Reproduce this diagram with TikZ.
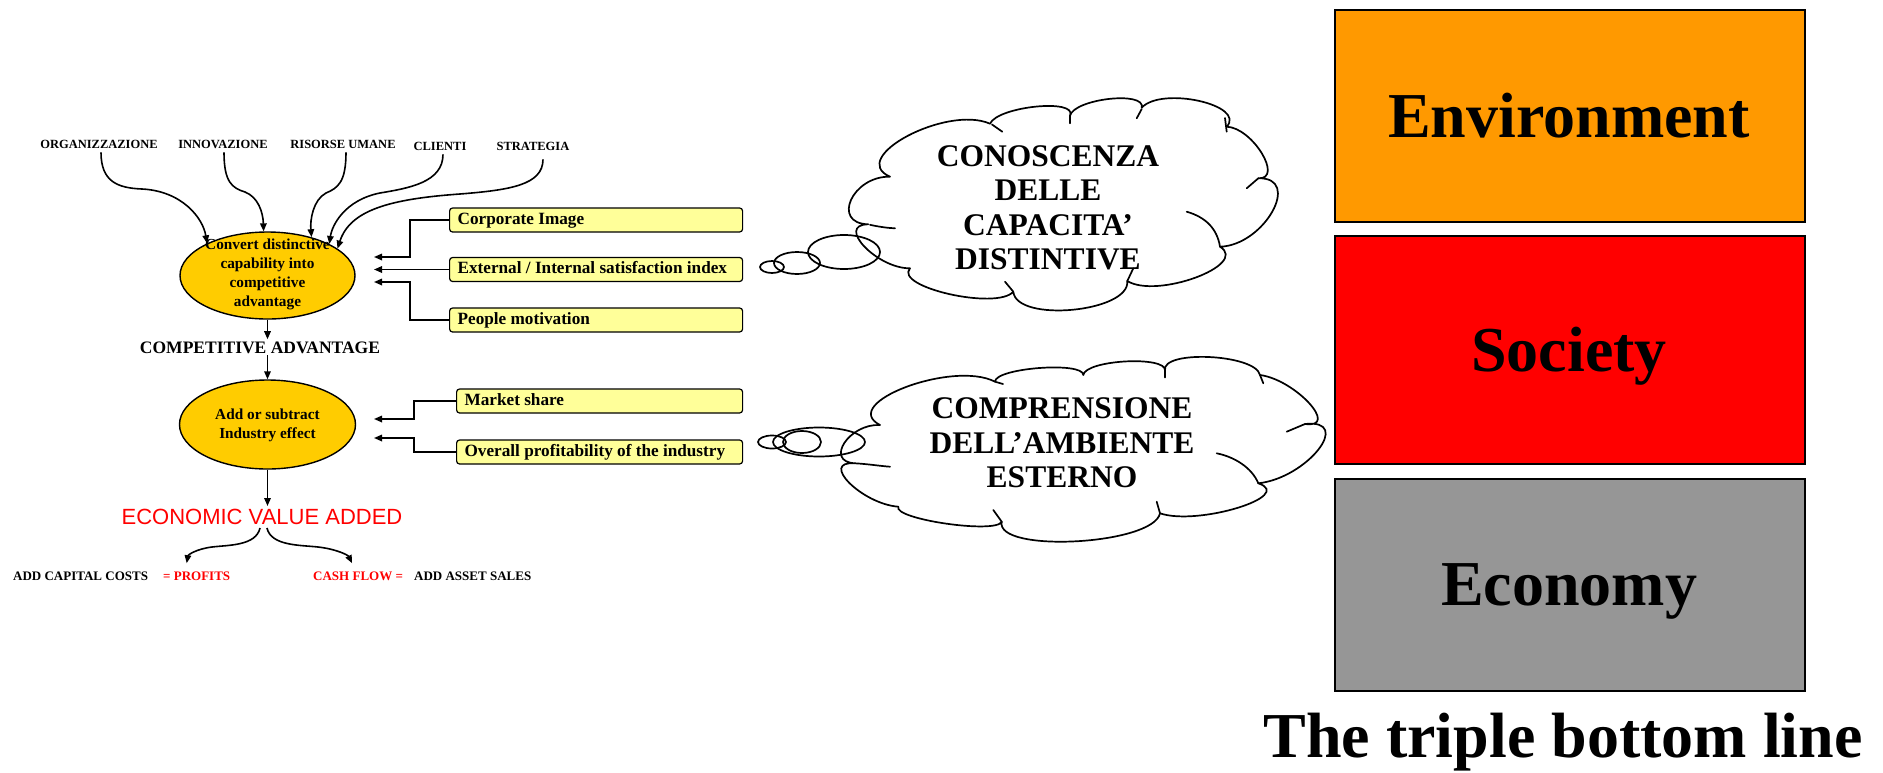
\documentclass[tikz,border=0pt]{standalone}
\usepackage{fontspec}
\setmainfont{Liberation Serif}
\newfontfamily\arialfont{Liberation Sans}
\usetikzlibrary{arrows.meta,shapes.geometric,calc}
\definecolor{gold}{HTML}{FFCC00}
\definecolor{lightyellow}{HTML}{FFFF99}
\definecolor{envorange}{HTML}{FF9900}
\definecolor{socred}{HTML}{FF0000}
\definecolor{ecogray}{HTML}{969696}
\definecolor{evared}{HTML}{FF0000}
\begin{document}
\begin{tikzpicture}[x=1pt,y=-1pt,
  arr/.style={-{Triangle[length=8pt,width=6.5pt]}, line width=1.6pt},
  toplbl/.style={font=\bfseries\fontsize{12.5}{14}\selectfont, anchor=base, inner sep=1pt},
  goldell/.style={ellipse, draw, line width=1.4pt, fill=gold, inner sep=0pt},
  elltext/.style={font=\bfseries\fontsize{15.3}{19}\selectfont, align=center, inner sep=0pt},
  ybox/.style={draw, line width=1.2pt, rounded corners=3pt, fill=lightyellow, anchor=west,
    inner xsep=8pt, inner ysep=0pt, minimum height=24pt, text height=12pt, text depth=4pt,
    font=\bfseries\fontsize{17.2}{20}\selectfont},
  smalltxt/.style={font=\bfseries\fontsize{13}{15}\selectfont, anchor=base west, inner sep=1pt},
  cloudline/.style={line width=1.7pt, line cap=round, line join=round},
  cloudtext/.style={font=\bfseries\fontsize{31.5}{34.5}\selectfont, align=center, inner sep=0pt},
  tbl/.style={draw, line width=1.5pt, minimum width=470pt, anchor=north west, inner sep=0pt},
  bigtext/.style={font=\bfseries\fontsize{64}{70}\selectfont, anchor=base, inner sep=0pt},
  bubble/.style={line width=1.7pt}
]
\useasboundingbox (0,0) rectangle (1883,772);
\fill[white] (0,0) rectangle (1883,772);

% ---- triple bottom line boxes ----
\node[tbl, fill=envorange, minimum height=212pt] (env) at (1334,9) {};
\node[bigtext] (envt) at (1569,137) {Environment};
\node[tbl, fill=socred, minimum height=228pt] (soc) at (1334,235) {};
\node[bigtext] (soct) at (1569,371) {Society};
\node[tbl, fill=ecogray, minimum height=212pt] (eco) at (1334,478) {};
\node[bigtext] (ecot) at (1569,605) {Economy};
\node[bigtext] (title) at (1563,757) {The triple bottom line};

% ---- top labels ----
\node[toplbl] (org) at (99,148) {ORGANIZZAZIONE};
\node[toplbl] (inn) at (223,148) {INNOVAZIONE};
\node[toplbl] (ris) at (343,148) {RISORSE UMANE};
\node[toplbl] (cli) at (440,150) {CLIENTI};
\node[toplbl] (str) at (533,150) {STRATEGIA};

% ---- ellipses ----
\node[goldell, minimum width=175pt, minimum height=87pt] (e1) at (267.5,275.5) {};
\node[elltext] (e1t) at (267.5,274) {Convert distinctive\\capability into\\competitive\\advantage};
\node[goldell, minimum width=176pt, minimum height=89pt] (e2) at (267.5,424.5) {};
\node[elltext] (e2t) at (267.5,425) {Add or subtract\\Industry effect};

% ---- curved arrows from labels ----
\draw[arr] ([xshift=2pt,yshift=-3pt]org.south) .. controls (101,182) and (118,188) .. (142,189)
   .. controls (182,191) and (203,218) .. (e1.152);
\draw[arr] ([xshift=1pt,yshift=-3pt]inn.south) .. controls (224,182) and (232,188) .. (245,192)
   .. controls (258,197) and (263,212) .. (e1.95);
\draw[arr] ([xshift=3pt,yshift=-3pt]ris.south) .. controls (346,182) and (338,188) .. (326,193)
   .. controls (313,200) and (310,220) .. (e1.41);
\draw[arr] ([xshift=3pt,yshift=-3pt]cli.south) .. controls (443,182) and (410,188) .. (380,193)
   .. controls (345,200) and (332,225) .. (e1.27);
\draw[arr] ([xshift=10pt,yshift=-8pt]str.south) .. controls (543,185) and (510,190) .. (460,194)
   .. controls (390,199) and (350,210) .. (e1.21);

% ---- yellow boxes ----
\node[ybox] (ci) at (449,220) {\makebox[277pt][l]{Corporate Image}};
\node[ybox] (ei) at (449,269.5) {\makebox[277pt][l]{External / Internal satisfaction index}};
\node[ybox] (pm) at (449,320) {\makebox[277pt][l]{People motivation}};
\node[ybox] (ms) at (456,401) {\makebox[270pt][l]{Market share}};
\node[ybox] (op) at (456,452) {\makebox[270pt][l]{Overall profitability of the industry}};

\coordinate (t1) at (374,257);
\coordinate (t2) at (374,269.5);
\coordinate (t3) at (374,282);
\coordinate (t4) at (374,419);
\coordinate (t5) at (374,438);

\draw[arr] (ci.west) -- ++(-39,0) |- (t1);
\draw[arr] (ei.west) -- (t2);
\draw[arr] (pm.west) -- ++(-39,0) |- (t3);
\draw[arr] (ms.west) -- ++(-42,0) |- (t4);
\draw[arr] (op.west) -- ++(-42,0) |- (t5);

% ---- middle column ----
\node[font=\bfseries\fontsize{17.5}{20}\selectfont, anchor=base, inner sep=2pt] (ca) at (260,353) {COMPETITIVE ADVANTAGE};
\draw[arr] (e1.south) -- (e1.south |- ca.north);
\draw[arr] (e2.north |- ca.south) -- (e2.north);

\node[font=\arialfont\fontsize{22}{24}\selectfont, text=evared, inner sep=3pt] (eva) at (262,517) {ECONOMIC VALUE ADDED};
\draw[arr] (e2.south) -- (e2.south |- eva.north);

\node[smalltxt] (acc) at (12,580) {ADD CAPITAL COSTS};
\node[smalltxt, text=evared] (pr) at (162,580) {= PROFITS};
\node[smalltxt, text=evared] (cf) at (312,580) {CASH FLOW =};
\node[smalltxt] (aas) at (413,580) {ADD ASSET SALES};

\coordinate (tipL) at ($(pr.north)+(-10,-7)$);
\coordinate (tipR) at ($(cf.north)+(-6,-7)$);
\draw[arr] ([xshift=-2pt]eva.south) .. controls (256,546) and (228,545) .. (212,547)
   .. controls (196,549) and (188,555) .. (tipL);
\draw[arr] ([xshift=5pt]eva.south) .. controls (271,546) and (300,545) .. (318,547)
   .. controls (336,549) and (348,555) .. (tipR);

% ---- cloud 1 ----
\draw[cloudline] (868.3,224.3)
  foreach \px/\py/\mx/\my/\qx/\qy in {
    868.3/224.3/851.7/200/890/176.7,
    890/176.7/908.3/136/990/123.7,
    990/123.7/1036.7/106.7/1070/115.7,
    1070/115.7/1110/99/1141.7/107.7,
    1141.7/107.7/1200/101/1226.7/126.7,
    1226.7/126.7/1262.7/153.3/1258.3/178.3,
    1258.3/178.3/1273.3/211.7/1220/246.7,
    1220/246.7/1196.7/277.7/1127.3/281,
    1127.3/281/1073.3/310/1013.3/291.7,
    1013.3/291.7/950/294.3/910/268.3,
    910/268.3/865/246.7/868.3/224.3}
  { .. controls ($0.333*(\px,\py)+1.333*(\mx,\my)-0.667*(\qx,\qy)$)
           and ($-0.667*(\px,\py)+1.333*(\mx,\my)+0.333*(\qx,\qy)$) .. (\qx,\qy) };
\draw[cloudline] (870,224.8) .. controls (880,227) and (888,228) .. (895,228.3);
\draw[cloudline] (992,124.5) -- (1002.3,131.7);
\draw[cloudline] (1070,115.7) -- (1070,123.3);
\draw[cloudline] (1141.7,109) -- (1136.7,118.3);
\draw[cloudline] (1225,118) -- (1226.7,131.7);
\draw[cloudline] (1258.3,178.3) -- (1246.7,188.3);
\draw[cloudline] (1186.7,211.7) .. controls (1205,217) and (1217,228) .. (1220,246.7);
\draw[cloudline] (1133.3,268.3) -- (1127.3,281);
\draw[cloudline] (1013.3,291.7) -- (1005,281.7);
\node[cloudtext] (c1t) at (1048,208) {CONOSCENZA\\DELLE\\CAPACITA’\\DISTINTIVE};
\draw[bubble] (772,267) ellipse [x radius=12, y radius=6];
\draw[bubble] (797,263) ellipse [x radius=23, y radius=11];
\draw[bubble] (844,252) ellipse [x radius=36, y radius=17];

% ---- cloud 2 ----
\draw[cloudline] (880,425)
  foreach \px/\py/\mx/\my/\qx/\qy in {
    880/425/906.7/387.3/995/381.7,
    995/381.7/1040/368.3/1083.3/375,
    1083.3/375/1126.7/361.7/1165/370.7,
    1165/370.7/1210/357.3/1260/375,
    1260/375/1310/403.3/1305/424,
    1305/424/1319.3/450/1258.3/483.3,
    1258.3/483.3/1238.3/508.3/1160/513.3,
    1160/513.3/1076.7/541.7/1001.7/521.7,
    1001.7/521.7/946.7/524/898.3/506.7,
    898.3/506.7/850/483.3/855/463.3,
    855/463.3/845/443.3/880/425}
  { .. controls ($0.333*(\px,\py)+1.333*(\mx,\my)-0.667*(\qx,\qy)$)
           and ($-0.667*(\px,\py)+1.333*(\mx,\my)+0.333*(\qx,\qy)$) .. (\qx,\qy) };
\draw[cloudline] (995,381.7) -- (1003,384);
\draw[cloudline] (1165,370.7) -- (1165,377.5);
\draw[cloudline] (1260,375) -- (1263.3,383.3);
\draw[cloudline] (1305,424) -- (1286.7,431.7);
\draw[cloudline] (1216.7,453.3) .. controls (1235,457) and (1252,468) .. (1258.3,483.3);
\draw[cloudline] (1156.7,501.7) -- (1160,513.3);
\draw[cloudline] (993.3,510) -- (1001.7,521.7);
\draw[cloudline] (855,463.3) .. controls (868,464) and (880,466) .. (890,466.7);
\node[cloudtext] (c2t) at (1062,443) {COMPRENSIONE\\DELL’AMBIENTE\\ESTERNO};
\draw[bubble] (772,442) ellipse [x radius=14, y radius=6.5];
\draw[bubble] (802,442) ellipse [x radius=19, y radius=11];
\draw[bubble] (819,442) ellipse [x radius=46, y radius=14.5];
\end{tikzpicture}
\end{document}
